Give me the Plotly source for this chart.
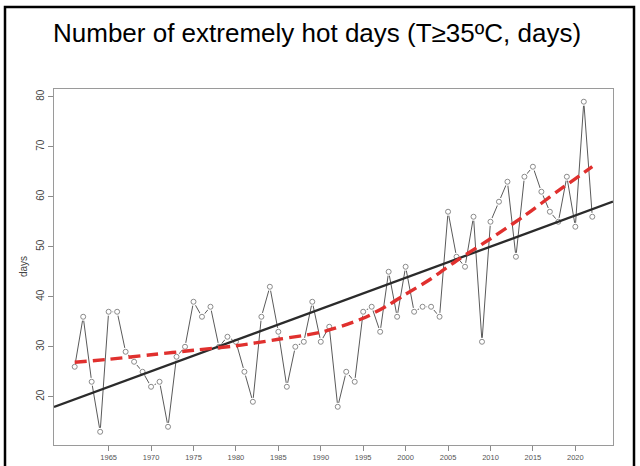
import numpy as np
import plotly.graph_objects as go

# ---- data ----
years = list(range(1961, 2023))
hot_days = [26, 36, 23, 13, 37, 37, 29, 27, 25, 22,
            23, 14, 28, 30, 39, 36, 38, 30, 32, 31,
            25, 19, 36, 42, 33, 22, 30, 31, 39, 31,
            34, 18, 25, 23, 37, 38, 33, 45, 36, 46,
            37, 38, 38, 36, 57, 48, 46, 56, 31, 55,
            59, 63, 48, 64, 66, 61, 57, 55, 64, 54,
            79, 56]

loess_years = [1961, 1965, 1970, 1975, 1980, 1985, 1990, 1995, 1998,
               2000, 2003, 2006, 2010, 2014, 2018, 2022]
loess_vals = [26.9, 27.5, 28.4, 29.3, 30.2, 31.5, 32.9, 35.7, 38.4,
              40.5, 43.6, 47.2, 51.6, 56.2, 61.2, 66.0]

x_ticks = [1965, 1970, 1975, 1980, 1985, 1990, 1995, 2000, 2005, 2010, 2015, 2020]
y_ticks = [20, 30, 40, 50, 60, 70, 80]

title_text = "Number of extremely hot days (T\u226535\u00baC, days)"
y_label = "days"

# ---- R-like axis ranges (data range + 4%) ----
xs = np.array(years, dtype=float)
ys = np.array(hot_days, dtype=float)
xpad = (xs.max() - xs.min()) * 0.04
ypad = (ys.max() - ys.min()) * 0.04
xr = [xs.min() - xpad, xs.max() + xpad]
yr = [ys.min() - ypad, ys.max() + ypad]

# linear trend (lm fit), drawn across the whole plot like abline
slope, intercept = np.polyfit(xs, ys, 1)
trend_x = xr
trend_y = [intercept + slope * v for v in xr]

W, H = 640, 466
FONT = "Liberation Sans, Arial, Helvetica, sans-serif"

fig = go.Figure()
# connecting line
fig.add_trace(go.Scatter(x=years, y=hot_days, mode="lines",
                         line=dict(color="#5a5a5a", width=1), hoverinfo="skip"))
# white disks to create type="b" gaps
fig.add_trace(go.Scatter(x=years, y=hot_days, mode="markers",
                         marker=dict(symbol="circle", size=8, color="white",
                                     line=dict(width=0)), hoverinfo="skip"))
# open circles
fig.add_trace(go.Scatter(x=years, y=hot_days, mode="markers",
                         marker=dict(symbol="circle-open", size=5, color="#8a8a8a",
                                     line=dict(width=1, color="#8a8a8a"))))
# linear trend
fig.add_trace(go.Scatter(x=trend_x, y=trend_y, mode="lines",
                         line=dict(color="#2b2b2b", width=2.3), hoverinfo="skip"))
# loess smooth
fig.add_trace(go.Scatter(x=loess_years, y=loess_vals, mode="lines",
                         line=dict(color="#e0302e", width=3.4, dash="12px,6px",
                                   shape="spline", smoothing=0.8),
                         hoverinfo="skip"))

axis_common = dict(showgrid=False, zeroline=False, showline=True, mirror=True,
                   linecolor="#9a9a9a", linewidth=1, ticks="outside",
                   tickcolor="#8a8a8a", ticklen=5, tickwidth=1)

fig.update_layout(
    width=W, height=H,
    margin=dict(l=0, r=0, t=0, b=0),
    paper_bgcolor="white", plot_bgcolor="white",
    showlegend=False,
    font=dict(family=FONT, color="#444444"),
    xaxis=dict(domain=[54 / W, 613 / W], range=xr, tickvals=x_ticks,
               tickfont=dict(size=7.5, color="#555555"), **axis_common),
    yaxis=dict(domain=[21 / H, 377.5 / H], range=yr, tickvals=y_ticks,
               tickangle=-90, tickfont=dict(size=10, color="#444444"),
               **axis_common),
    annotations=[
        dict(text=title_text, xref="paper", yref="paper",
             x=317 / W, y=1 - 33 / H, xanchor="center", yanchor="middle",
             showarrow=False, font=dict(family=FONT, size=26, color="black")),
        dict(text=y_label, xref="paper", yref="paper",
             x=23 / W, y=1 - 267 / H, xanchor="center", yanchor="middle",
             textangle=-90, showarrow=False,
             font=dict(family=FONT, size=10, color="#444444")),
    ],
    shapes=[
        dict(type="rect", xref="paper", yref="paper",
             x0=5 / W, x1=634 / W, y0=-0.05, y1=1 - 7 / H,
             line=dict(color="black", width=2.5), fillcolor="rgba(0,0,0,0)",
             layer="above"),
    ],
)

fig.write_html("out.html")
